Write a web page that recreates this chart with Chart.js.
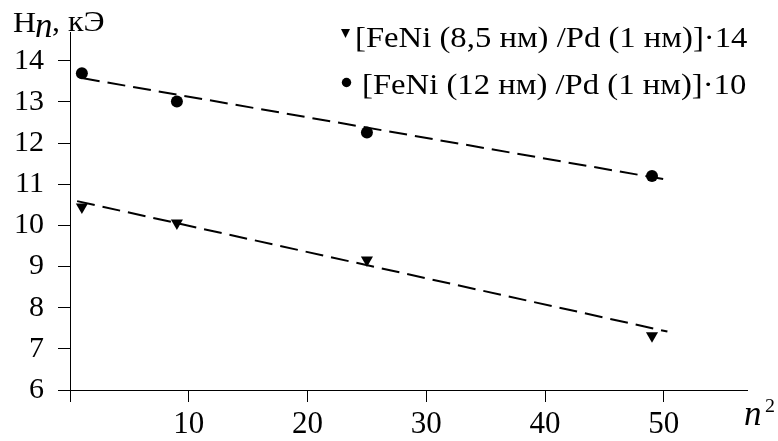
<!DOCTYPE html>
<html>
<head>
<meta charset="utf-8">
<script src="https://cdn.jsdelivr.net/npm/chart.js@4/dist/chart.umd.min.js"></script>
<style>
html,body{margin:0;padding:0;background:#fff;}
#wrap{width:778px;height:441px;position:relative;}
</style>
</head>
<body>
<div id="wrap"><canvas id="c" width="778" height="441"></canvas></div>
<script>
// n^2 values (n = 1, 3, 5, 7)
const nSquared = [1, 9, 25, 49];
// Hn, kOe for [FeNi (8,5 nm)/Pd (1 nm)]x14
const seriesA = [10.45, 10.06, 9.16, 7.32];
// Hn, kOe for [FeNi (12 nm)/Pd (1 nm)]x10
const seriesB = [13.70, 13.01, 12.26, 11.20];
// dashed linear fits (end points)
const fitAx = [0.6, 50.3];
const fitAy = [10.59, 7.42];
const fitBx = [1, 50.45];
const fitBy = [13.58, 11.10];
const legendLabels = ['[FeNi (8,5 нм) /Pd (1 нм)]·14', '[FeNi (12 нм) /Pd (1 нм)]·10'];
const yTitle = ['H', 'n', ', кЭ'];
const xTitle = ['n', '2'];
const xTicks = [0, 10, 20, 30, 40, 50];
const yTicks = [6, 7, 8, 9, 10, 11, 12, 13, 14];

const SERIF = "'Liberation Serif', 'Times New Roman', serif";
const pts = (xs, ys) => xs.map((x, i) => ({x: x, y: ys[i]}));

function txt(ctx, s, x, y, font, sx) {
  ctx.save();
  ctx.font = font;
  ctx.translate(x, y);
  ctx.scale(sx, 1);
  ctx.fillText(s, 0, 0);
  ctx.restore();
}

const textPlugin = {
  id: 'texts',
  afterDraw(chart) {
    const ctx = chart.ctx;
    ctx.save();
    ctx.fillStyle = '#000';
    ctx.textBaseline = 'alphabetic';
    ctx.textAlign = 'left';
    // y axis title
    txt(ctx, yTitle[0], 13, 32, '29px ' + SERIF, 1.1);
    txt(ctx, yTitle[1], 35, 37, 'italic 35px ' + SERIF, 1.0);
    txt(ctx, yTitle[2], 52, 31, '29px ' + SERIF, 1.1);
    // x axis title
    txt(ctx, xTitle[0], 744, 425, 'italic 35px ' + SERIF, 1.0);
    txt(ctx, xTitle[1], 765, 412, '19px ' + SERIF, 1.05);
    // legend markers
    ctx.beginPath();
    ctx.moveTo(341, 29);
    ctx.lineTo(350, 29);
    ctx.lineTo(345.5, 38);
    ctx.closePath();
    ctx.fill();
    ctx.beginPath();
    ctx.arc(346.5, 82.5, 4.7, 0, Math.PI * 2);
    ctx.fill();
    // legend texts
    txt(ctx, legendLabels[0], 355, 47, '30px ' + SERIF, 1.09);
    txt(ctx, legendLabels[1], 362, 94, '30px ' + SERIF, 1.09);
    ctx.restore();
  }
};

new Chart(document.getElementById('c'), {
  type: 'scatter',
  data: {
    datasets: [
      {
        label: 'fitA', type: 'line', data: pts(fitAx, fitAy),
        borderColor: '#000', borderWidth: 2, borderDash: [18, 8],
        pointRadius: 0, fill: false, tension: 0
      },
      {
        label: 'fitB', type: 'line', data: pts(fitBx, fitBy),
        borderColor: '#000', borderWidth: 2, borderDash: [18, 8],
        pointRadius: 0, fill: false, tension: 0
      },
      {
        label: legendLabels[0], data: pts(nSquared, seriesA),
        pointStyle: 'triangle', rotation: 180, pointRadius: 7,
        backgroundColor: '#000', borderColor: '#000', borderWidth: 0
      },
      {
        label: legendLabels[1], data: pts(nSquared, seriesB),
        pointStyle: 'circle', pointRadius: 6,
        backgroundColor: '#000', borderColor: '#000', borderWidth: 0
      }
    ]
  },
  options: {
    responsive: false,
    animation: false,
    events: [],
    layout: {padding: {top: 32, right: 31, left: 0, bottom: 0}},
    plugins: {legend: {display: false}, tooltip: {enabled: false}},
    scales: {
      x: {
        type: 'linear', position: 'bottom', min: 0, max: 57,
        afterBuildTicks(s) { s.ticks = xTicks.map(v => ({value: v})); },
        afterFit(s) { s.height = 51; },
        ticks: {
          font: {family: SERIF, size: 31}, color: '#000', padding: 4, maxRotation: 0,
          callback: v => (v === 0 ? '' : String(v))
        },
        grid: {drawOnChartArea: false, drawTicks: true, tickLength: 12, color: '#000', lineWidth: 1},
        border: {display: true, color: '#000', width: 1}
      },
      y: {
        type: 'linear', min: 6, max: 14.7,
        afterBuildTicks(s) { s.ticks = yTicks.map(v => ({value: v})); },
        afterFit(s) { s.width = 70; },
        ticks: {font: {family: SERIF, size: 30}, color: '#000', padding: 14},
        grid: {drawOnChartArea: false, drawTicks: true, tickLength: 12, color: '#000', lineWidth: 1},
        border: {display: true, color: '#000', width: 1}
      }
    }
  },
  plugins: [textPlugin]
});
</script>
</body>
</html>
